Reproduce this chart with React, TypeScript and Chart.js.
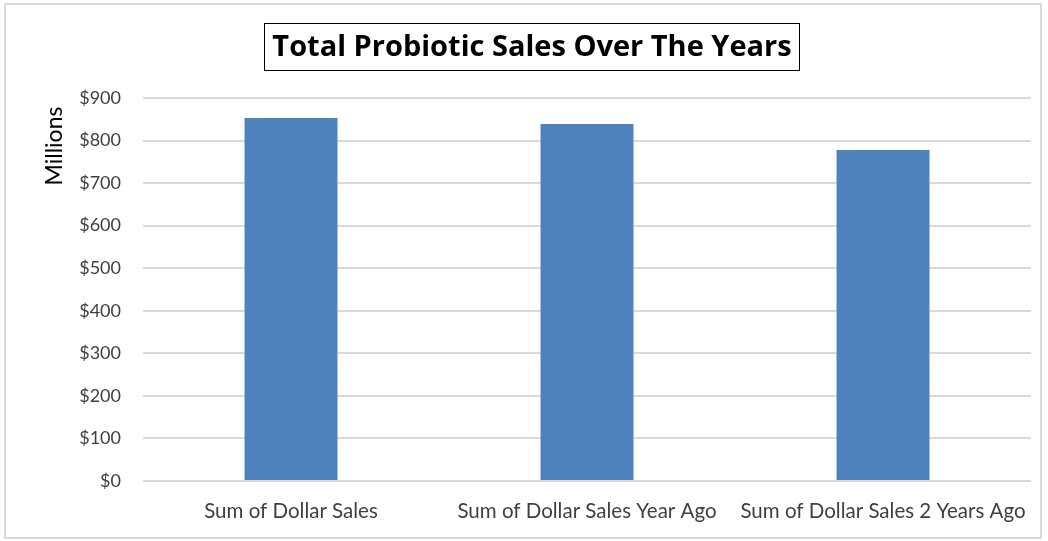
import React, { useEffect, useRef } from "react";
import { Chart, registerables } from "chart.js";

Chart.register(...registerables);

const categories = ["Sum of Dollar Sales", "Sum of Dollar Sales Year Ago", "Sum of Dollar Sales 2 Years Ago"];
const salesMillions = [853, 839, 778];
const yTicks = [0, 100, 200, 300, 400, 500, 600, 700, 800, 900];
const titleText = "Total Probiotic Sales Over The Years";
const axisTitle = "Millions";

const FONT = "Lato, 'Open Sans', sans-serif";
const TITLE_FONT = "bold 29px 'Open Sans', sans-serif";
const AXIS_TITLE_FONT = `23px ${FONT}`;

const titlesPlugin = {
  id: "titles",
  afterDraw(chart: any) {
    const ctx = chart.ctx;
    ctx.save();
    // main title with box
    ctx.font = TITLE_FONT;
    ctx.fillStyle = "#000";
    ctx.textAlign = "center";
    ctx.textBaseline = "middle";
    const cx = 532;
    const cy = 46.5;
    const w = ctx.measureText(titleText).width;
    ctx.fillText(titleText, cx, cy + 1);
    ctx.strokeStyle = "#000";
    ctx.lineWidth = 1;
    ctx.strokeRect(Math.round(cx - w / 2 - 8) + 0.5, 23.5, Math.round(w + 16), 47);
    // y-axis title
    ctx.font = AXIS_TITLE_FONT;
    ctx.translate(55, 146);
    ctx.rotate(-Math.PI / 2);
    ctx.textAlign = "center";
    ctx.textBaseline = "middle";
    ctx.fillText(axisTitle, 0, 0);
    ctx.restore();
  },
};

export default function App() {
  const ref = useRef<HTMLCanvasElement>(null);
  useEffect(() => {
    if (!ref.current) return;
    const chart = new Chart(ref.current, {
      type: "bar",
      data: {
        labels: categories,
        datasets: [
          {
            data: salesMillions,
            backgroundColor: "#4F81BD",
            barPercentage: 0.628,
            categoryPercentage: 0.5,
          },
        ],
      },
      plugins: [titlesPlugin],
      options: {
        animation: false,
        responsive: false,
        layout: { padding: { left: 0, right: 17, top: 98, bottom: 0 } },
        plugins: {
          legend: { display: false },
          tooltip: { enabled: false },
          title: { display: false },
        },
        scales: {
          x: {
            afterFit(axis: any) {
              axis.height = 60;
            },
            grid: { display: false },
            border: { display: false },
            ticks: { color: "#404040", font: { family: FONT, size: 20.5 }, padding: 10, maxRotation: 0, autoSkip: false },
          },
          y: {
            min: 0,
            max: 900,
            afterFit(axis: any) {
              axis.width = 143;
            },
            afterBuildTicks(axis: any) {
              axis.ticks = yTicks.map((v) => ({ value: v }));
            },
            grid: { color: "#d9d9d9", lineWidth: 2, drawTicks: false },
            border: { display: false },
            ticks: {
              color: "#404040",
              font: { family: FONT, size: 18 },
              padding: 22,
              callback: (v: any) => "$" + v,
            },
          },
        },
      },
    });
    return () => chart.destroy();
  }, []);
  return (
    <div style={{ position: "fixed", left: 0, top: 0, width: 1048, height: 541, background: "#fff" }}>
      <div
        style={{
          position: "absolute",
          left: 4,
          top: 3,
          width: 1034,
          height: 532,
          border: "2px solid #d9d9d9",
        }}
      />
      <canvas ref={ref} width={1048} height={541} style={{ position: "absolute", left: 0, top: 0 }} />
    </div>
  );
}
